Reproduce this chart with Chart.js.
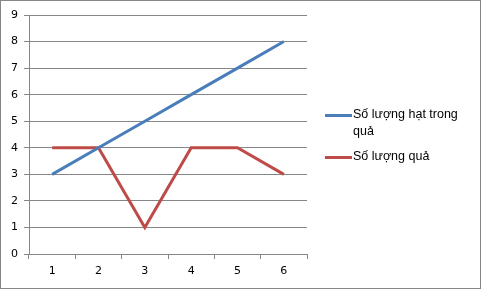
<!DOCTYPE html>
<html lang="vi">
<head>
    <meta charset="UTF-8">
    <title>Chart</title>
    <style>
        body { margin: 0; background: #fff; }
        #wrap { position: relative; width: 479px; height: 287px; border: 1px solid #868686; overflow: hidden; }
        #legend { position: absolute; left: 324px; top: 105px; font: 12.5px "Liberation Sans", Arial, sans-serif; color: #000; }
        .item { position: relative; padding-left: 28px; line-height: 17px; margin-bottom: 8px; }
        .item span { position: absolute; left: 0; top: 8px; width: 27px; height: 3px; }
    </style>
</head>
<body>
<div id="wrap">
    <canvas id="lineChart" width="479" height="287"></canvas>
    <div id="legend"></div>
</div>

<script src="https://cdn.jsdelivr.net/npm/chart.js"></script>

<script>
    // Data
    const categories = ["1", "2", "3", "4", "5", "6"];
    const seedsPerFruit = [3, 4, 5, 6, 7, 8];
    const fruitCount = [4, 4, 1, 4, 4, 3];
    const seriesNames = ["Số lượng hạt trong quả", "Số lượng quả"];
    const seriesColors = ["#4A7EBB", "#BE4B48"];

    const gridColor = '#868686';

    const chart = new Chart(document.getElementById('lineChart'), {
        type: 'line',
        data: {
            labels: categories,
            datasets: [
                { label: seriesNames[0], data: seedsPerFruit, borderColor: seriesColors[0], borderWidth: 3, pointRadius: 0, tension: 0 },
                { label: seriesNames[1], data: fruitCount, borderColor: seriesColors[1], borderWidth: 3, pointRadius: 0, tension: 0 }
            ]
        },
        options: {
            responsive: false,
            animation: false,
            layout: { padding: { top: 14, right: 173, left: 0, bottom: 0 } },
            plugins: { legend: { display: false }, tooltip: { enabled: false } },
            scales: {
                x: {
                    offset: true,
                    grid: { offset: true, drawOnChartArea: false, color: gridColor, tickLength: 5 },
                    border: { color: gridColor },
                    ticks: { color: '#000', font: { size: 11, family: 'DejaVu Sans' }, padding: 6, maxRotation: 0 },
                    afterFit: s => { s.height = 34; }
                },
                y: {
                    min: 0, max: 9,
                    grid: { color: gridColor, tickLength: 5 },
                    border: { color: gridColor },
                    ticks: { stepSize: 1, color: '#000', font: { size: 11, family: 'DejaVu Sans' }, padding: 6 },
                    afterFit: s => { s.width = 28; }
                }
            }
        }
    });

    // HTML legend so the long label can wrap like the original
    const legend = document.getElementById('legend');
    legend.innerHTML = seriesNames.map((name, i) =>
        '<div class="item"' + (i === 0 ? ' style="width:125px"' : '') + '><span style="background:' + seriesColors[i] + '"></span>' + name + '</div>'
    ).join('');
</script>

</body>
</html>
